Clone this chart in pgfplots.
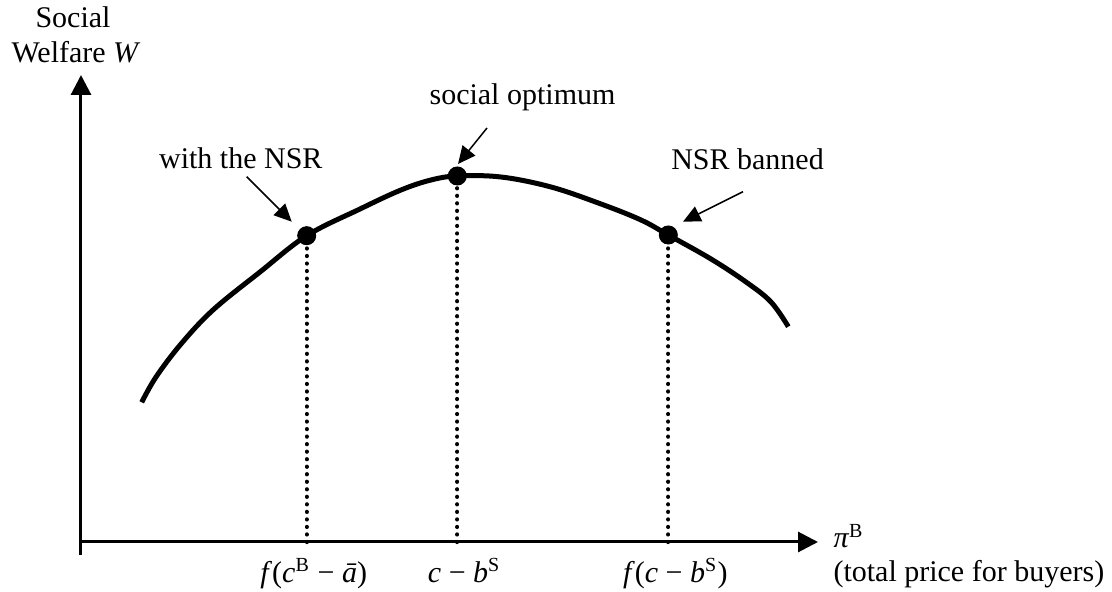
\documentclass[border=0pt,12pt]{standalone}
\usepackage{fontspec}
\setmainfont{Liberation Serif}
\usepackage{pgfplots}
\pgfplotsset{compat=1.18}
\usetikzlibrary{arrows.meta}

\begin{document}
\begin{tikzpicture}
\begin{axis}[
  scale only axis,
  width=294.8pt, height=192pt,
  xmin=0, xmax=737, ymin=-13, ymax=467,
  axis lines=middle,
  axis line style={line width=1.2pt, -{Triangle[length=8pt,width=8pt]}},
  ytick=\empty,
  xtick={225.7,376.3,587.3},
  xticklabels={{\textit{f}(\textit{c}\textsuperscript{B} − \textit{ā})},{\textit{c} − \textit{b}\textsuperscript{S}},{\textit{f}(\textit{c} − \textit{b}\textsuperscript{S})}},
  major tick length=0pt,
  xticklabel style={anchor=base, yshift=-16pt, xshift=2.8pt},
  clip=false,
]
% welfare curve
\addplot[line width=2pt, smooth, tension=0.6] coordinates {
 (60.7,139.7) (75,165) (100,198) (132,232) (179,270) (225.7,306.3)
 (279,333) (320,352) (350,362) (376.3,366) (420,365)
 (470,355) (520,338) (560,322) (587.3,307)
 (630,283) (665,260) (690,240) (707.3,215.3)
};
% dotted drop lines
\addplot[line width=1.7pt, line cap=round, dash pattern=on 0.01pt off 3pt] coordinates {(225.7,0) (225.7,306.3)};
\addplot[line width=1.7pt, line cap=round, dash pattern=on 0.01pt off 3pt] coordinates {(376.3,0) (376.3,366)};
\addplot[line width=1.7pt, line cap=round, dash pattern=on 0.01pt off 3pt] coordinates {(587.3,0) (587.3,307)};
% points
\addplot[only marks, mark=*, mark size=3.6pt, black] coordinates {
 (225.7,306.3) (376.3,366) (587.3,307)
};
% annotation arrows
\draw[line width=0.6pt, -{Triangle[length=7pt,width=6.5pt]}] (axis cs:165.7,365.3) -- (axis cs:210.7,320.3);
\draw[line width=0.6pt, -{Triangle[length=7pt,width=6.5pt]}] (axis cs:406,414) -- (axis cs:377,378);
\draw[line width=0.6pt, -{Triangle[length=7pt,width=6.5pt]}] (axis cs:662,350.3) -- (axis cs:602,320.3);
% texts
\node[anchor=base] at (axis cs:159.8,373) {with the NSR};
\node[anchor=base] at (axis cs:441.5,437) {social optimum};
\node[anchor=base] at (axis cs:666.5,372) {NSR banned};
\node[anchor=base] at (axis cs:-8,514) {Social};
\node[anchor=base] at (axis cs:-5,479) {Welfare \textit{W}};
\node[anchor=base west, inner sep=0pt] at (axis cs:752,-6) {\textit{π}\textsuperscript{B}};
\node[anchor=base west, inner sep=0pt] at (axis cs:752,-39.7) {(total price for buyers)};
\coordinate (BL) at (axis cs:-81,-50);
\coordinate (TR) at (axis cs:1031,542);
\end{axis}
\pgfresetboundingbox
\path[use as bounding box] (BL) rectangle (TR);
\end{tikzpicture}
\end{document}
